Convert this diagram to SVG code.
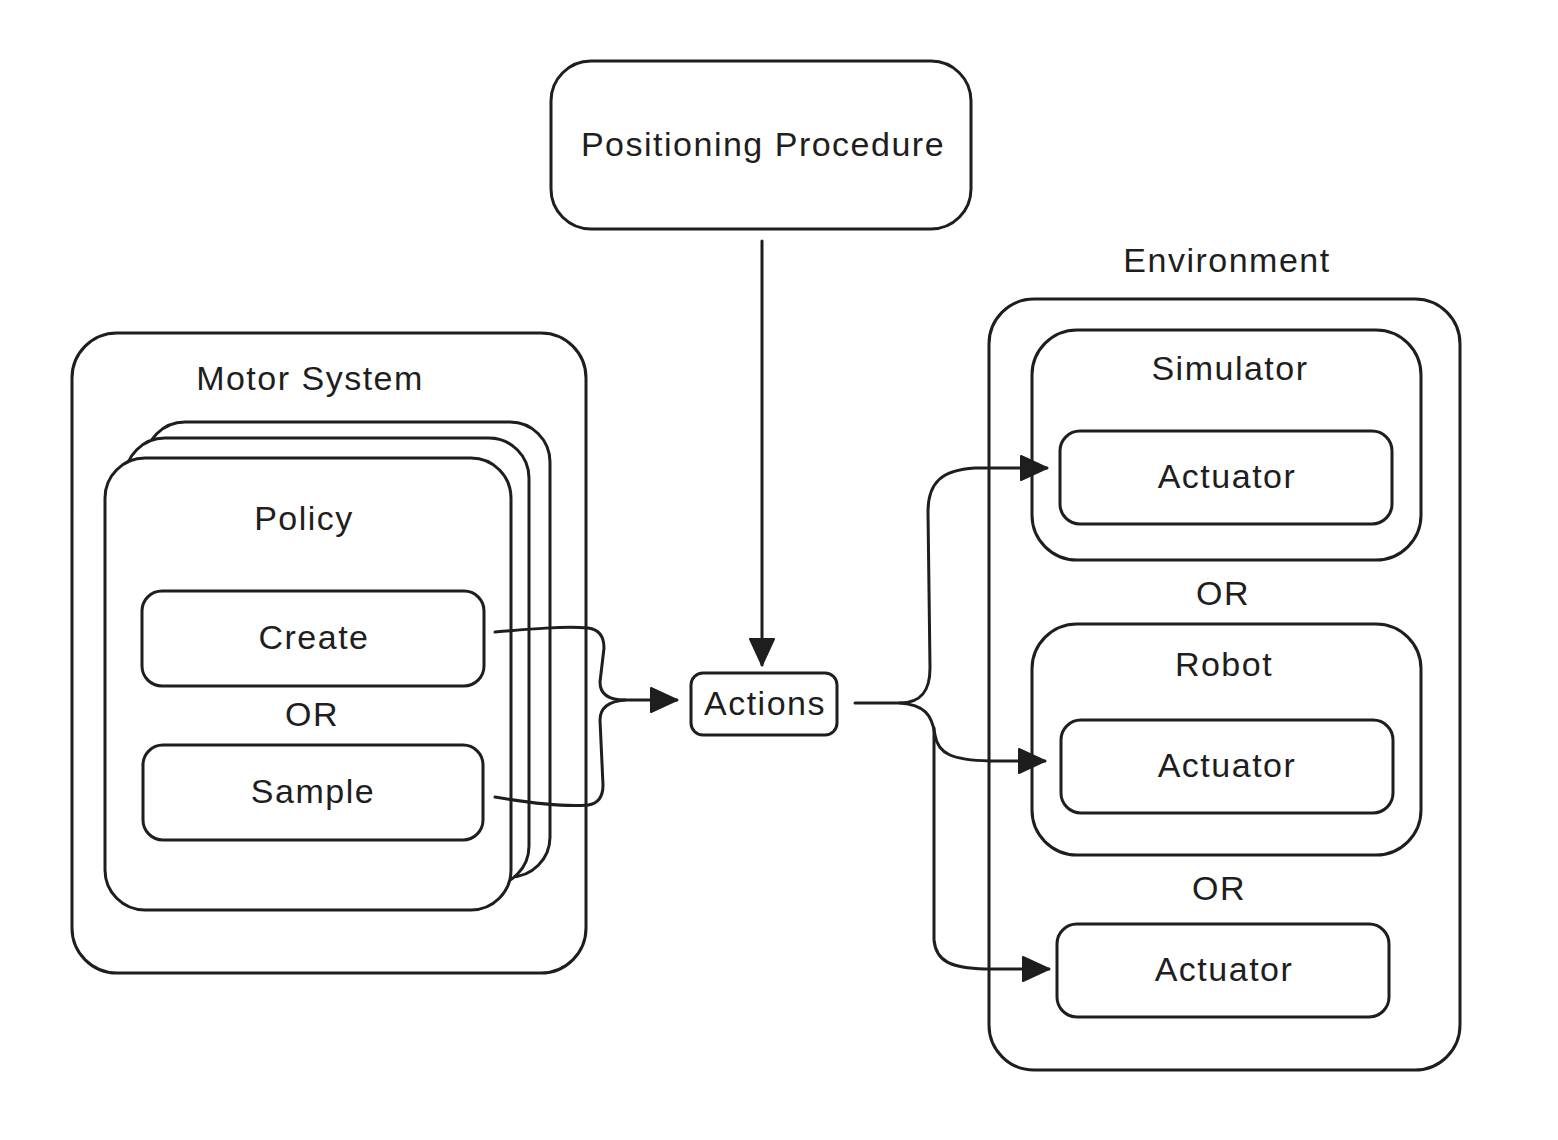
<svg xmlns="http://www.w3.org/2000/svg" width="1558" height="1140" viewBox="0 0 1558 1140">
<style>
.b{fill:#fff;stroke:#1e1e1e;stroke-width:3}
.c{fill:none;stroke:#1e1e1e;stroke-width:3;stroke-linecap:round;stroke-linejoin:round}
text{font-family:"Liberation Sans","DejaVu Sans",sans-serif;font-size:34px;letter-spacing:1.5px;fill:#1e1e1e;text-anchor:middle;dominant-baseline:central}
</style>
<defs>
<marker id="ah" markerUnits="userSpaceOnUse" markerWidth="30" markerHeight="30" viewBox="0 0 30 30" refX="28" refY="15" orient="auto">
<path d="M2,3 L28,15 L2,27 Z" fill="#1e1e1e" stroke="#1e1e1e" stroke-width="2" stroke-linejoin="round"/>
</marker>
</defs>
<rect width="1558" height="1140" fill="#fff"/>

<g id="motor-system">
<rect class="b" x="72" y="333" width="514" height="640" rx="45"/>
<text x="310" y="378">Motor System</text>
</g>
<g id="policy">
<rect class="b" x="145" y="422" width="405" height="455" rx="40"/>
<rect class="b" x="125" y="438" width="404" height="448" rx="40"/>
<rect class="b" x="105" y="458" width="406" height="452" rx="40"/>
<text x="304" y="518">Policy</text>
<text x="312" y="714">OR</text>
</g>
<g id="create">
<rect class="b" x="142" y="591" width="342" height="95" rx="20"/>
<text x="314" y="637">Create</text>
</g>
<g id="sample">
<rect class="b" x="143" y="745" width="340" height="95" rx="20"/>
<text x="313" y="791">Sample</text>
</g>
<g id="positioning-procedure">
<rect class="b" x="551" y="61" width="420" height="168" rx="40"/>
<text x="763" y="144">Positioning Procedure</text>
</g>
<g id="actions">
<rect class="b" x="691" y="673" width="146" height="62" rx="12"/>
<text x="765" y="703">Actions</text>
</g>
<g id="environment">
<text x="1227" y="260">Environment</text>
<rect class="b" x="989" y="299" width="471" height="771" rx="45"/>
<text x="1223" y="593">OR</text>
<text x="1219" y="888">OR</text>
</g>
<g id="simulator">
<rect class="b" x="1032" y="330" width="389" height="230" rx="45"/>
<text x="1230" y="368">Simulator</text>
</g>
<g id="actuator-sim">
<rect class="b" x="1060" y="431" width="332" height="93" rx="20"/>
<text x="1227" y="476">Actuator</text>
</g>
<g id="robot">
<rect class="b" x="1032" y="624" width="389" height="231" rx="45"/>
<text x="1224" y="664">Robot</text>
</g>
<g id="actuator-robot">
<rect class="b" x="1061" y="720" width="332" height="93" rx="20"/>
<text x="1227" y="765">Actuator</text>
</g>
<g id="actuator-direct">
<rect class="b" x="1057" y="924" width="332" height="93" rx="20"/>
<text x="1224" y="969">Actuator</text>
</g>

<g id="connectors">
<path class="c" d="M762,241 L762,665" marker-end="url(#ah)"/>
<path class="c" d="M495,632 C530,629 565,626 588,628 Q604,630 604,648 L600,682 Q600,700 625,700 L677,700" marker-end="url(#ah)"/>
<path class="c" d="M495,797 C530,803 565,807 588,805 Q603,803 603,785 L600,720 Q600,702 625,700"/>
<path class="c" d="M855,703 L900,703 C922,703 930,690 930,668 L928,512 C928,482 942,470 975,468 L1047,468" marker-end="url(#ah)"/>
<path class="c" d="M900,703 C924,705 932,714 935,735 C938,754 952,760 990,761 L1045,761" marker-end="url(#ah)"/>
<path class="c" d="M934,728 L934,940 C936,962 952,968 985,969 L1049,969" marker-end="url(#ah)"/>
</g>
</svg>
